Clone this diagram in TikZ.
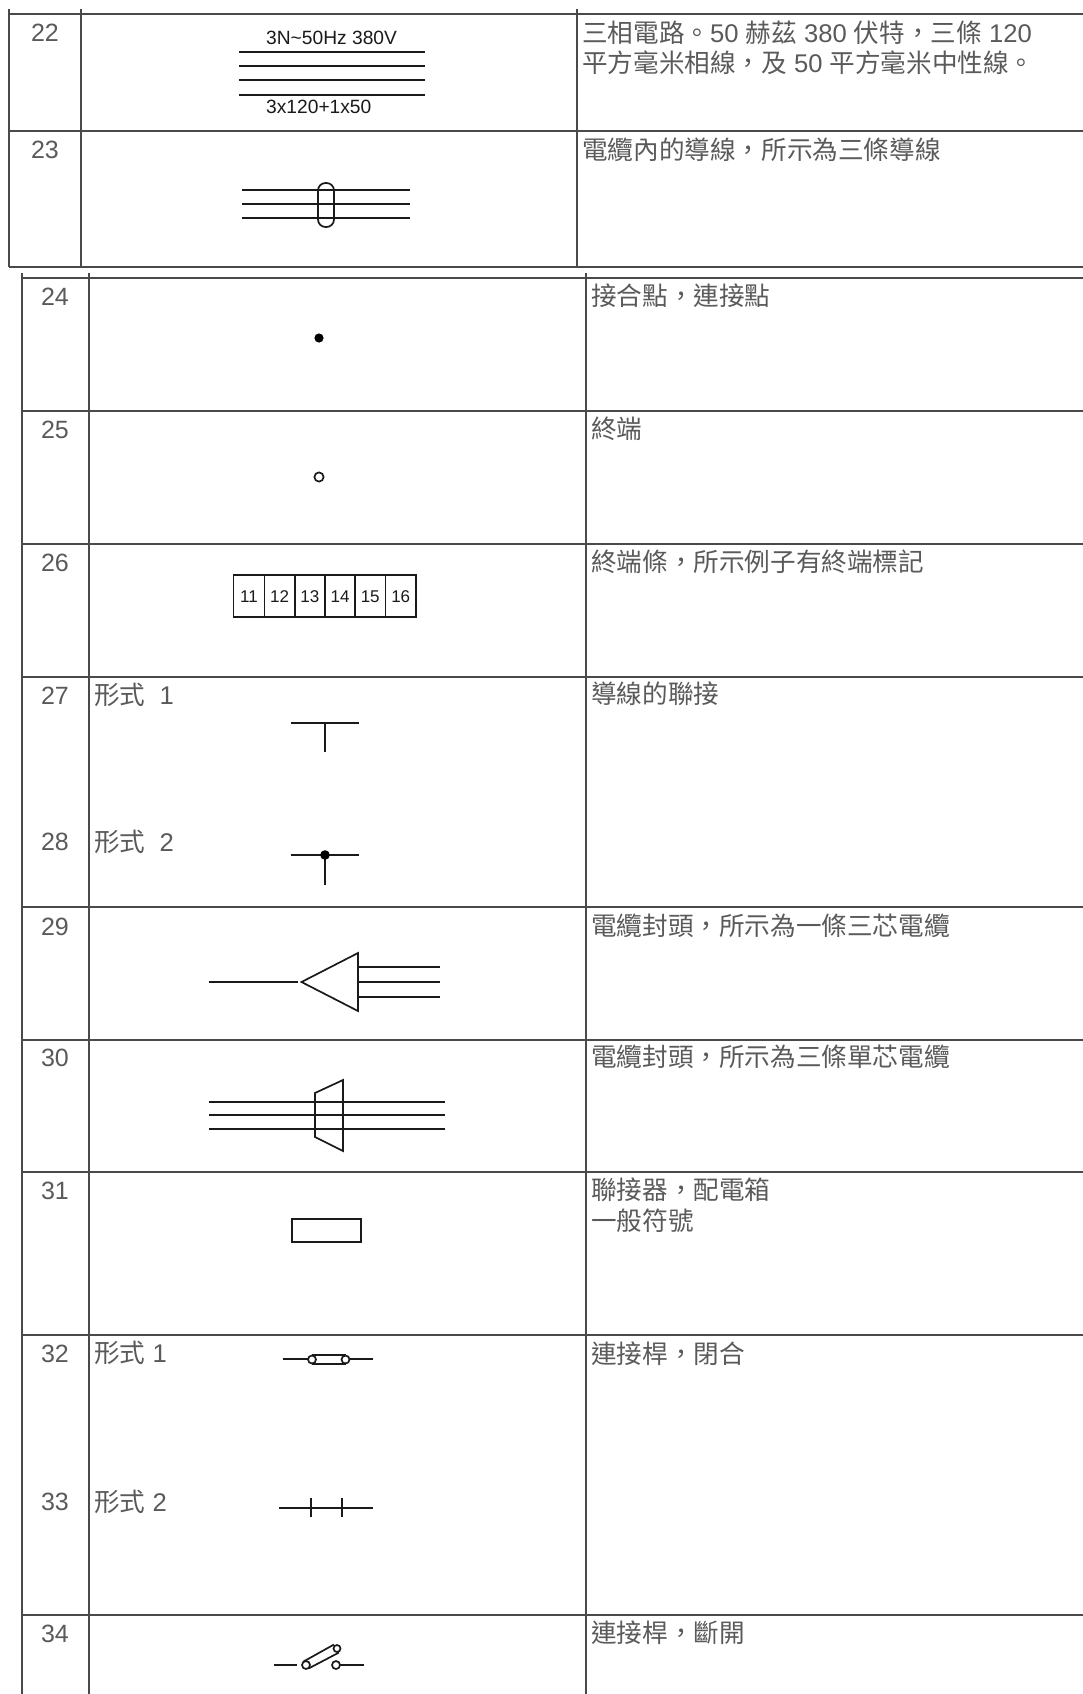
\documentclass[tikz,border=0pt]{standalone}
\usepackage{fontspec}
\setmainfont{Liberation Sans}
\newfontfamily\cjk{Noto Sans CJK TC}
\newcommand{\C}[1]{{\cjk #1}}
\definecolor{rule}{HTML}{4A4A4A}
\definecolor{ink}{HTML}{5A5A5A}
\definecolor{sym}{HTML}{1A1A1A}
\tikzset{
  x=1pt,y=-1pt,
  gridline/.style={draw=rule,line width=2.2pt},
  symline/.style={draw=sym,line width=1.7pt},
  numtext/.style={anchor=base,inner sep=0pt,text=ink,font=\fontsize{25}{25}\selectfont},
  bodytext/.style={anchor=base west,inner sep=0pt,text=ink,font=\fontsize{25.6}{30}\selectfont},
  symtext/.style={anchor=base west,inner sep=0pt,text=sym,font=\fontsize{19.2}{20}\selectfont},
  termtext/.style={anchor=center,inner sep=0pt,text=sym,font=\fontsize{17}{17}\selectfont},
}
\begin{document}
\begin{tikzpicture}
\useasboundingbox[fill=white] (0,0) rectangle (1083,1694);
% table 1 grid
\foreach \yy in {14,131,267} \draw[gridline] (9,\yy) -- (1083,\yy);
\foreach \xx in {9,81,577} \draw[gridline] (\xx,9) -- (\xx,267);
% table 2 grid
\foreach \yy in {278,411,544,677,907,1040,1172,1335,1615} \draw[gridline] (22,\yy) -- (1083,\yy);
\foreach \xx in {22,89,586} \draw[gridline] (\xx,273) -- (\xx,1694);
% numbers
\node[numtext] (n22) at (45,42) {22};
\node[numtext] (n23) at (45,158) {23};
\node[numtext] (n24) at (55,305) {24};
\node[numtext] (n25) at (55,438) {25};
\node[numtext] (n26) at (55,571) {26};
\node[numtext] (n27) at (55,704) {27};
\node[numtext] (n28) at (55,850) {28};
\node[numtext] (n29) at (55,935) {29};
\node[numtext] (n30) at (55,1066) {30};
\node[numtext] (n31) at (55,1199) {31};
\node[numtext] (n32) at (55,1362) {32};
\node[numtext] (n33) at (55,1510) {33};
\node[numtext] (n34) at (55,1642) {34};
% form labels
\node[bodytext] (f27) at (94,704) {\C{形式}\ \ 1};
\node[bodytext] (f28) at (94,851) {\C{形式}\ \ 2};
\node[bodytext] (f32) at (94,1362) {\C{形式} 1};
\node[bodytext] (f33) at (94,1511) {\C{形式} 2};
% descriptions
\node[bodytext] (d22a) at (582,43) {\C{三相電路。}50 \C{赫茲} 380 \C{伏特，三條} 120};
\node[bodytext] (d22b) at (582,73) {\C{平方毫米相線，及} 50 \C{平方毫米中性線。}};
\node[bodytext] (d23) at (582,159) {\C{電纜內的導線，所示為三條導線}};
\node[bodytext] (d24) at (591,305) {\C{接合點，連接點}};
\node[bodytext] (d25) at (591,438) {\C{終端}};
\node[bodytext] (d26) at (591,571) {\C{終端條，所示例子有終端標記}};
\node[bodytext] (d27) at (591,703) {\C{導線的聯接}};
\node[bodytext] (d29) at (591,935) {\C{電纜封頭，所示為一條三芯電纜}};
\node[bodytext] (d30) at (591,1066) {\C{電纜封頭，所示為三條單芯電纜}};
\node[bodytext] (d31a) at (591,1199) {\C{聯接器，配電箱}};
\node[bodytext] (d31b) at (591,1230) {\C{一般符號}};
\node[bodytext] (d32) at (591,1363) {\C{連接桿，閉合}};
\node[bodytext] (d34) at (591,1642) {\C{連接桿，斷開}};
% 22
\node[symtext] (t22a) at (266,44.5) {3N\textasciitilde 50Hz 380V};
\node[symtext] (t22b) at (266,113.5) {3x120+1x50};
\foreach \yy in {52,66,80,95} \draw[symline] (239,\yy) -- (425,\yy);
% 23
\foreach \yy in {190,204,218} \draw[symline] (242,\yy) -- (410,\yy);
\draw[symline,rounded corners=7.5pt] (318,183) rectangle (334,227);
% 24, 25
\fill[black] (319,338) circle (4.6);
\draw[symline] (319,477) circle (4.6);
% 26
\draw[symline] (233.5,575) rectangle (416,617);
\foreach \xx in {264.5,294.7,325,355,385.4} \draw[symline] (\xx,575) -- (\xx,617);
\node[termtext] (c11) at (249,596.5) {11};
\node[termtext] (c12) at (279.6,596.5) {12};
\node[termtext] (c13) at (309.8,596.5) {13};
\node[termtext] (c14) at (340,596.5) {14};
\node[termtext] (c15) at (370.2,596.5) {15};
\node[termtext] (c16) at (400.7,596.5) {16};
% 27, 28
\draw[symline] (291,723) -- (359,723);
\draw[symline] (325,723) -- (325,752);
\draw[symline] (291,855) -- (359,855);
\draw[symline] (325,855) -- (325,885);
\fill[black] (325,855) circle (4.8);
% 29
\draw[symline] (208.5,982) -- (298,982);
\draw[symline,line join=miter] (301.5,982) -- (358,953) -- (358,1011) -- cycle;
\foreach \yy in {967,982,997} \draw[symline] (358,\yy) -- (440,\yy);
% 30
\foreach \yy in {1102,1115,1129} \draw[symline] (209,\yy) -- (444.7,\yy);
\draw[symline] (315,1093) -- (343,1080) -- (343,1151) -- (315,1137) -- cycle;
% 31
\draw[symline] (292,1219) rectangle (361,1242);
% 32
\draw[symline] (283,1359) -- (308,1359);
\draw[symline] (350,1359) -- (373,1359);
\draw[symline] (312,1355) -- (346,1355);
\draw[symline] (312,1364) -- (346,1364);
\draw[symline] (312,1359.5) circle (4);
\draw[symline] (345.5,1359.5) circle (4);
% 33
\draw[symline] (279,1508) -- (373,1508);
\draw[symline] (311,1498) -- (311,1517);
\draw[symline] (342,1498) -- (342,1517);
% 34
\draw[symline] (274,1665) -- (297,1665);
\draw[symline] (340,1665) -- (364,1665);
\draw[symline] (306,1665) circle (4);
\draw[symline] (336,1665) circle (4);
\draw[symline] (303.5,1661.5) -- (334,1644.5);
\draw[symline] (308.5,1668.5) -- (339,1652.5);
\draw[symline] (337,1648.5) circle (3.5);
\end{tikzpicture}
\end{document}
